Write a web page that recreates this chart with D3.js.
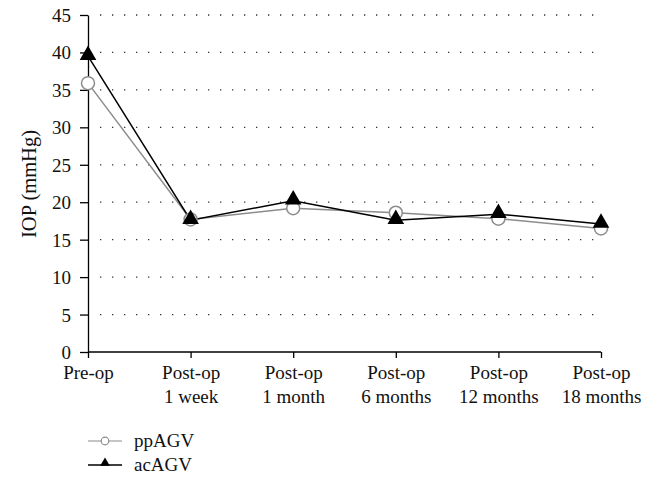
<!DOCTYPE html>
<meta charset="utf-8">
<style>
body { margin: 0; background: #fff; }
svg text { font-family: "Liberation Serif", "DejaVu Serif", serif; font-size: 19px; fill: #111; }
.grid line { stroke: #333; stroke-width: 1.3; stroke-dasharray: 1.3,10.7; }
.axis path, .axis line { stroke: #000; stroke-width: 1.3; }
</style>
<svg width="661" height="484"></svg>
<script src="https://d3js.org/d3.v7.min.js"></script>
<script>

var categories = [["Pre-op"], ["Post-op", "1 week"], ["Post-op", "1 month"], ["Post-op", "6 months"], ["Post-op", "12 months"], ["Post-op", "18 months"]];
var ppAGV = [35.9, 17.7, 19.2, 18.6, 17.8, 16.5];
var acAGV = [39.5, 17.6, 20.2, 17.6, 18.4, 17.1];
var yTicks = [0, 5, 10, 15, 20, 25, 30, 35, 40, 45];

var svg = d3.select("svg");

var x = d3.scalePoint().domain(d3.range(categories.length)).range([88, 601]);
var y = d3.scaleLinear().domain([0, 45]).range([352, 15]);

// dotted gridlines
svg.append("g").attr("class", "grid")
  .selectAll("line").data(yTicks.slice(1)).enter().append("line")
    .attr("x1", 100).attr("x2", 600)
    .attr("y1", function(d) { return y(d); })
    .attr("y2", function(d) { return y(d); });

// y axis
var yAxis = svg.append("g").attr("class", "axis")
    .attr("transform", "translate(88,0)")
    .call(d3.axisLeft(y).tickValues(yTicks).tickSize(8).tickSizeOuter(0));
yAxis.selectAll("text").attr("x", -17).attr("dy", "0.34em");

// x axis
var xAxis = svg.append("g").attr("class", "axis")
    .attr("transform", "translate(0," + y(0) + ")")
    .call(d3.axisBottom(x).tickSize(6).tickSizeOuter(0).tickFormat(""));
xAxis.select(".domain").attr("d", "M88,0H601");
xAxis.selectAll(".tick").each(function(d) {
  var t = d3.select(this).append("text").attr("y", 27).attr("text-anchor", "middle");
  categories[d].forEach(function(s, i) {
    t.append("tspan").attr("x", 0).attr("dy", i ? 24 : 0).text(s);
  });
});

svg.append("text")
    .attr("transform", "translate(36,184) rotate(-90)")
    .attr("text-anchor", "middle")
    .style("font-size", "20.5px")
    .text("IOP (mmHg)");

var line = d3.line()
    .x(function(d, i) { return x(i); })
    .y(function(d) { return y(d); });

svg.append("path").datum(ppAGV)
    .attr("d", line).attr("fill", "none").attr("stroke", "#8c8c8c").attr("stroke-width", 1.5);
svg.append("path").datum(acAGV)
    .attr("d", line).attr("fill", "none").attr("stroke", "#000").attr("stroke-width", 1.5);

var tri = d3.symbol().type(d3.symbolTriangle).size(120);

svg.selectAll(".pp").data(ppAGV).enter().append("circle")
    .attr("cx", function(d, i) { return x(i); })
    .attr("cy", function(d) { return y(d); })
    .attr("r", 6.5).attr("fill", "#fff").attr("stroke", "#8c8c8c").attr("stroke-width", 1.5);

svg.selectAll(".ac").data(acAGV).enter().append("path")
    .attr("d", tri)
    .attr("transform", function(d, i) { return "translate(" + x(i) + "," + (y(d) - 1) + ")"; })
    .attr("fill", "#000");

// legend
var legend = svg.append("g");
legend.append("line").attr("x1", 88).attr("x2", 122).attr("y1", 441).attr("y2", 441)
    .attr("stroke", "#8c8c8c").attr("stroke-width", 1.2);
legend.append("circle").attr("cx", 105).attr("cy", 441).attr("r", 3.8)
    .attr("fill", "#fff").attr("stroke", "#8c8c8c").attr("stroke-width", 1.2);
legend.append("text").attr("x", 134).attr("y", 447).text("ppAGV");
legend.append("line").attr("x1", 88).attr("x2", 122).attr("y1", 465).attr("y2", 465)
    .attr("stroke", "#000").attr("stroke-width", 1.5);
legend.append("path").attr("d", d3.symbol().type(d3.symbolTriangle).size(40))
    .attr("transform", "translate(105,463)").attr("fill", "#000");
legend.append("text").attr("x", 134).attr("y", 471).text("acAGV");

</script>
